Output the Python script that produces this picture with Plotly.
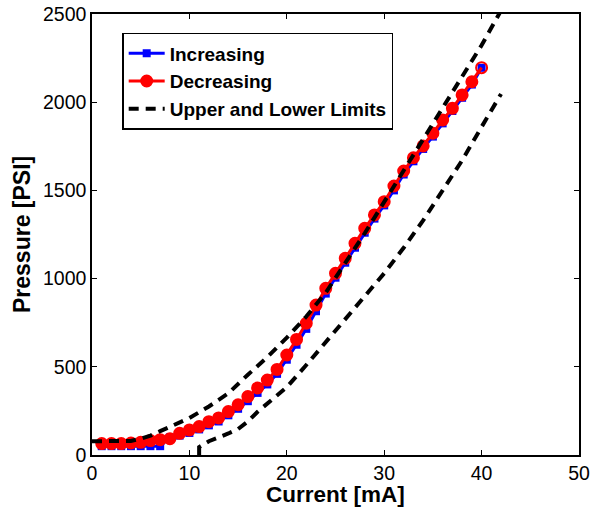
import plotly.graph_objects as go

current = list(range(1, 41))
increasing = [50, 50, 50, 50, 50, 50, 50, 100, 110, 125,
              145, 168, 190, 225, 262, 305, 352, 400, 460, 540,
              625, 715, 815, 915, 1005, 1090, 1175, 1260, 1340, 1415,
              1500, 1590, 1665, 1735, 1805, 1880, 1950, 2025, 2100, 2195]
decreasing = [65, 65, 65, 68, 72, 82, 87, 92, 123, 142,
              161, 189, 210, 246, 285, 331, 380, 425, 485, 567,
              655, 747, 850, 945, 1030, 1115, 1200, 1285, 1361, 1436,
              1525, 1610, 1685, 1752, 1824, 1899, 1965, 2041, 2116, 2196]

upper_x = [0, 2, 4, 5, 6, 7, 8, 10, 12, 14, 16, 18, 20, 22, 24, 26, 28, 30, 32, 34, 36, 38, 40, 42]
upper_y = [78, 78, 80, 92, 110, 135, 160, 210, 275, 350, 455, 555, 665, 785, 920, 1085, 1257, 1435, 1612, 1790, 1967, 2145, 2323, 2520]

lower_x = [11, 11, 12, 13, 14, 15, 16, 17, 18, 20, 22, 24, 26, 28, 30, 32, 34, 36, 38, 40, 42]
lower_y = [0, 45, 78, 98, 122, 147, 190, 245, 290, 385, 510, 640, 770, 895, 1030, 1175, 1330, 1500, 1670, 1860, 2047]

FONT = "Liberation Sans, Arial, Helvetica, sans-serif"

fig = go.Figure()
fig.add_trace(go.Scatter(x=current, y=increasing, mode="lines+markers", name="Increasing",
                         line=dict(color="#0000ff", width=3),
                         marker=dict(symbol="square", size=8, color="#0000ff")))
dec_colors = ["#ff0000"] * (len(current) - 1) + ["rgba(0,0,0,0)"]
fig.add_trace(go.Scatter(x=current, y=decreasing, mode="lines+markers", name="Decreasing",
                         line=dict(color="#ff0000", width=3),
                         marker=dict(symbol="circle", size=11, color=dec_colors,
                                     line=dict(color="#ff0000", width=2))))
fig.add_trace(go.Scatter(x=upper_x, y=upper_y, mode="lines", name="Upper and Lower Limits",
                         line=dict(color="black", width=4, dash="10px,7px")))
fig.add_trace(go.Scatter(x=lower_x, y=lower_y, mode="lines", showlegend=False,
                         line=dict(color="black", width=4, dash="10px,7px")))

axis_common = dict(showline=True, linecolor="black", linewidth=1.5, mirror="ticks",
                   ticks="inside", ticklen=5, tickcolor="black", tickwidth=1,
                   showgrid=False, zeroline=False, automargin=False,
                   tickfont=dict(family=FONT, size=19.5, color="black"))

W, H = 592, 507
L, R, T, B = 92, 13, 14, 52

fig.update_layout(
    width=W, height=H,
    margin=dict(l=L, r=R, t=T, b=B, autoexpand=False),
    paper_bgcolor="white", plot_bgcolor="white",
    xaxis=dict(range=[0, 50], tickvals=[0, 10, 20, 30, 40, 50], **axis_common),
    yaxis=dict(range=[0, 2500], tickvals=[0, 500, 1000, 1500, 2000, 2500], **axis_common),
    legend=dict(x=0.062, y=0.957, xanchor="left", yanchor="top",
                bgcolor="white", bordercolor="black", borderwidth=1.5,
                font=dict(family=FONT, size=19, color="black", weight="bold"),
                itemwidth=36, tracegroupgap=0),
    showlegend=True,
)

pw, ph = W - L - R, H - T - B
def px_to_paper(x, y):
    return (x - L) / pw, (H - y - B) / ph

xt = px_to_paper(335, 494)
yt = px_to_paper(22, 235)
fig.add_annotation(text="<b>Current [mA]</b>", x=xt[0], y=xt[1], xref="paper", yref="paper",
                   xanchor="center", yanchor="middle", showarrow=False,
                   font=dict(family=FONT, size=22.5, color="black"))
fig.add_annotation(text="<b>Pressure [PSI]</b>", x=yt[0], y=yt[1], xref="paper", yref="paper",
                   xanchor="center", yanchor="middle", showarrow=False, textangle=-90,
                   font=dict(family=FONT, size=23, color="black"))

fig.write_html("out.html", config={"displayModeBar": False},
               post_script="document.body.style.margin='0';document.body.style.padding='0';document.body.style.overflow='hidden';")
